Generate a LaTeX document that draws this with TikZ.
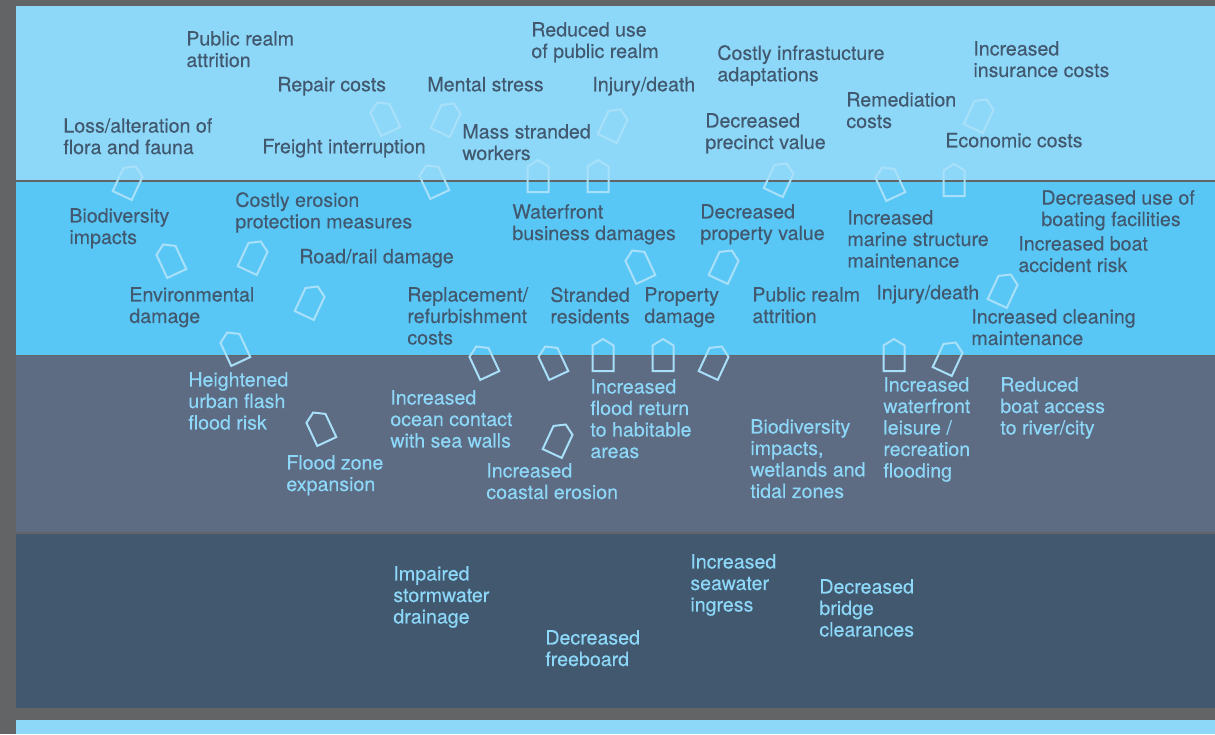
\documentclass[tikz,border=0pt]{standalone}
\usepackage{fontspec}
\setmainfont{TeX Gyre Heros}[FakeBold = 0.2]
\definecolor{frame gray}{HTML}{636466}
\definecolor{sky band}{HTML}{8DD8F8}
\definecolor{water band}{HTML}{59C7F5}
\definecolor{slate band}{HTML}{5D6B83}
\definecolor{deep band}{HTML}{41586F}
\definecolor{marker blue}{HTML}{A9E0F9}
\tikzset {
    label text/.style = {
        anchor = north west,
        align = left,
        inner sep = 0pt,
        xshift = -0.8pt,
        font = \fontsize{19.6}{21.5}\selectfont,
        execute at begin node = \strut
    },
    dark label/.style = {label text, text = deep band},
    light label/.style = {label text, text = sky band},
    %
    house/.pic = {
        \draw [marker blue, line width = 2pt, line join = miter]
            (-10.5pt, -16pt) -- (10.5pt, -16pt) -- (10.5pt, 9.5pt)
            -- (0pt, 16pt) -- (-10.5pt, 9.5pt) -- cycle;
    }
}
\begin{document}
\begin{tikzpicture}[x = 1pt, y = -1pt]
            \useasboundingbox (0, 0) rectangle (1215, 734);
            \fill [frame gray] (0, 0) rectangle (1215, 734);
            \fill [sky band] (16, 6) rectangle (1215, 180);
            \fill [water band] (16, 182) rectangle (1215, 355);
            \fill [slate band] (16, 356) rectangle (1215, 532);
            \fill [deep band] (16, 534) rectangle (1215, 708);
            \fill [sky band] (16, 720) rectangle (1215, 734);
            % top band
            \node (realm top) [dark label] at (187, 31) {Public realm\\attrition};
            \node (repair) [dark label] at (278, 76) {Repair costs};
            \node (mental) [dark label] at (428, 76) {Mental stress};
            \node (injury top) [dark label] at (593, 76) {Injury/death};
            \node (reduced use) [dark label] at (532, 22) {Reduced use\\of public realm};
            \node (adaptations) [dark label] at (718, 45) {Costly infrastucture\\adaptations};
            \node (insurance) [dark label] at (974, 41) {Increased\\insurance costs};
            \node (remediation) [dark label] at (847, 92) {Remediation\\costs};
            \node (precinct) [dark label] at (706, 113) {Decreased\\precinct value};
            \node (economic) [dark label] at (946, 132) {Economic costs};
            \node (workers) [dark label] at (463, 124) {Mass stranded\\workers};
            \node (flora) [dark label] at (64, 118) {Loss/alteration of\\flora and fauna};
            \node (freight) [dark label] at (263, 138) {Freight interruption};
            % middle band
            \node (biodiversity) [dark label] at (70, 208) {Biodiversity\\impacts};
            \node (erosion) [dark label] at (236, 192) {Costly erosion\\protection measures};
            \node (road) [dark label] at (300, 248) {Road/rail damage};
            \node (business) [dark label] at (513, 204) {Waterfront\\business damages};
            \node (property value) [dark label] at (701, 204) {Decreased\\property value};
            \node (marine) [dark label] at (848, 210) {Increased\\marine structure\\maintenance};
            \node (boating) [dark label] at (1042, 190) {Decreased use of\\boating facilities};
            \node (accident) [dark label] at (1019, 236) {Increased boat\\accident risk};
            \node (environment) [dark label] at (130, 287) {Environmental\\damage};
            \node (replacement) [dark label] at (408, 287) {Replacement/\\refurbishment\\costs};
            \node (stranded) [dark label] at (551, 287) {Stranded\\residents};
            \node (property) [dark label] at (645, 287) {Property\\damage};
            \node (realm mid) [dark label] at (753, 287) {Public realm\\attrition};
            \node (injury mid) [dark label] at (877, 284) {Injury/death};
            \node (cleaning) [dark label] at (972, 309) {Increased cleaning\\maintenance};
            % slate band
            \node (flash) [light label] at (189, 372) {Heightened\\urban flash\\flood risk};
            \node (ocean) [light label] at (391, 390) {Increased\\ocean contact\\with sea walls};
            \node (return) [light label] at (591, 379) {Increased\\flood return\\to habitable\\areas};
            \node (wetlands) [light label] at (751, 419) {Biodiversity\\impacts,\\wetlands and\\tidal zones};
            \node (leisure) [light label] at (884, 377) {Increased\\waterfront\\leisure /\\recreation\\flooding};
            \node (boat access) [light label] at (1001, 377) {Reduced\\boat access\\to river/city};
            \node (flood zone) [light label] at (287, 455) {Flood zone\\expansion};
            \node (coastal) [light label] at (487, 463) {Increased\\coastal erosion};
            % deep band
            \node (drainage) [light label] at (394, 566) {Impaired\\stormwater\\drainage};
            \node (freeboard) [light label] at (546, 630) {Decreased\\freeboard};
            \node (ingress) [light label] at (691, 554) {Increased\\seawater\\ingress};
            \node (bridge) [light label] at (820, 579) {Decreased\\bridge\\clearances};
            % markers
            \pic [rotate = -25] at (129, 181) {house};
            \pic [rotate = 25] at (384, 117) {house};
            \pic [rotate = -25] at (447, 118) {house};
            \pic [rotate = 25] at (433, 180) {house};
            \pic [rotate = 25] at (170, 259) {house};
            \pic [rotate = -25] at (254, 256) {house};
            \pic [rotate = -25] at (311, 301) {house};
            \pic [rotate = 25] at (234, 347) {house};
            \pic [rotate = 25] at (320, 427) {house};
            \pic [rotate = 25] at (483, 361) {house};
            \pic [rotate = 25] at (552, 361) {house};
            \pic [rotate = -25] at (559, 439) {house};
            \pic [rotate = -25] at (614, 124) {house};
            \pic at (538, 176) {house};
            \pic at (598, 176) {house};
            \pic [rotate = -25] at (780, 178) {house};
            \pic [rotate = 25] at (889, 182) {house};
            \pic at (954, 180) {house};
            \pic [rotate = -25] at (980, 114) {house};
            \pic [rotate = 25] at (639, 265) {house};
            \pic [rotate = -25] at (725, 265) {house};
            \pic [rotate = -25] at (1004, 289) {house};
            \pic at (603, 355) {house};
            \pic at (663, 355) {house};
            \pic [rotate = -25] at (715, 361) {house};
            \pic at (894, 355) {house};
            \pic [rotate = -25] at (949, 357) {house};
        \end{tikzpicture}
\end{document}
